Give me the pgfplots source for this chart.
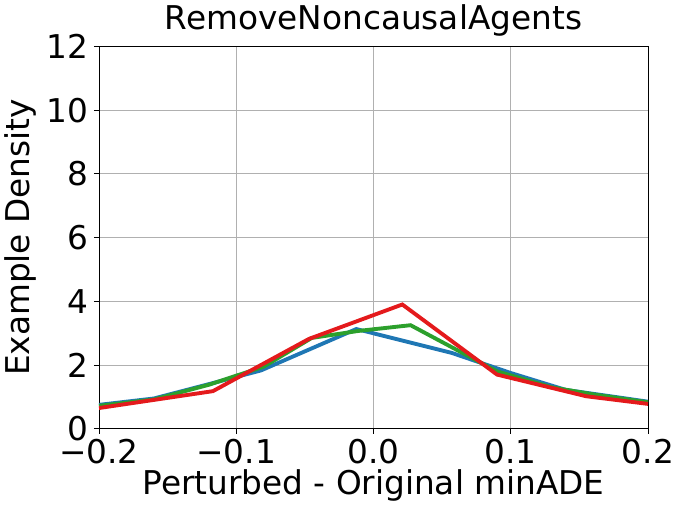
\documentclass[border=0pt]{standalone}
\usepackage{fontspec}
\setmainfont{DejaVu Sans}
\usepackage{pgfplots}
\pgfplotsset{compat=1.18}
\definecolor{tblue}{HTML}{1F77B4}
\definecolor{tgreen}{HTML}{2CA02C}
\definecolor{tred}{HTML}{E41A1C}
\begin{document}
\begin{tikzpicture}
\begin{axis}[
    scale only axis,
    width=369pt, height=257pt,
    xmin=-0.2, xmax=0.2, ymin=0, ymax=12,
    xtick={-0.2,-0.1,0,0.1,0.2},
    xticklabels={−0.2,−0.1,0.0,0.1,0.2},
    ytick={0,2,4,6,8,10,12},
    /pgf/number format/assume math mode=true,
    tick label style={font=\fontsize{22}{26}\selectfont},
    label style={font=\fontsize{22}{26}\selectfont},
    title style={font=\fontsize{22}{26}\selectfont, yshift=-3pt},
    title={RemoveNoncausalAgents},
    xlabel={Perturbed - Original minADE},
    ylabel={Example Density},
    xlabel style={yshift=3pt},
    grid=major, major grid style={line width=0.6pt, draw=black!31},
    tick align=outside, tickpos=left,
    major tick length=3.5pt,
    tick style={black, line width=0.6pt},
    axis line style={line width=0.6pt},
    every axis plot/.append style={line width=2.6pt, line join=miter},
    clip=true,
]
\addplot[tblue] coordinates {
    (-0.2,0.75)(-0.16,0.95)(-0.12,1.4)(-0.082,1.83)(-0.0125,3.13)(0.057,2.38)(0.1,1.75)(0.14,1.22)(0.2,0.85)
};
\addplot[tgreen] coordinates {
    (-0.2,0.72)(-0.16,0.92)(-0.12,1.38)(-0.08,1.95)(-0.045,2.85)(-0.011,3.07)(0.027,3.25)(0.09,1.8)(0.13,1.3)(0.16,1.08)(0.2,0.83)
};
\addplot[tred] coordinates {
    (-0.2,0.65)(-0.117,1.18)(-0.047,2.82)(0.021,3.9)(0.09,1.7)(0.155,1.02)(0.2,0.78)
};
\end{axis}
\end{tikzpicture}
\end{document}
